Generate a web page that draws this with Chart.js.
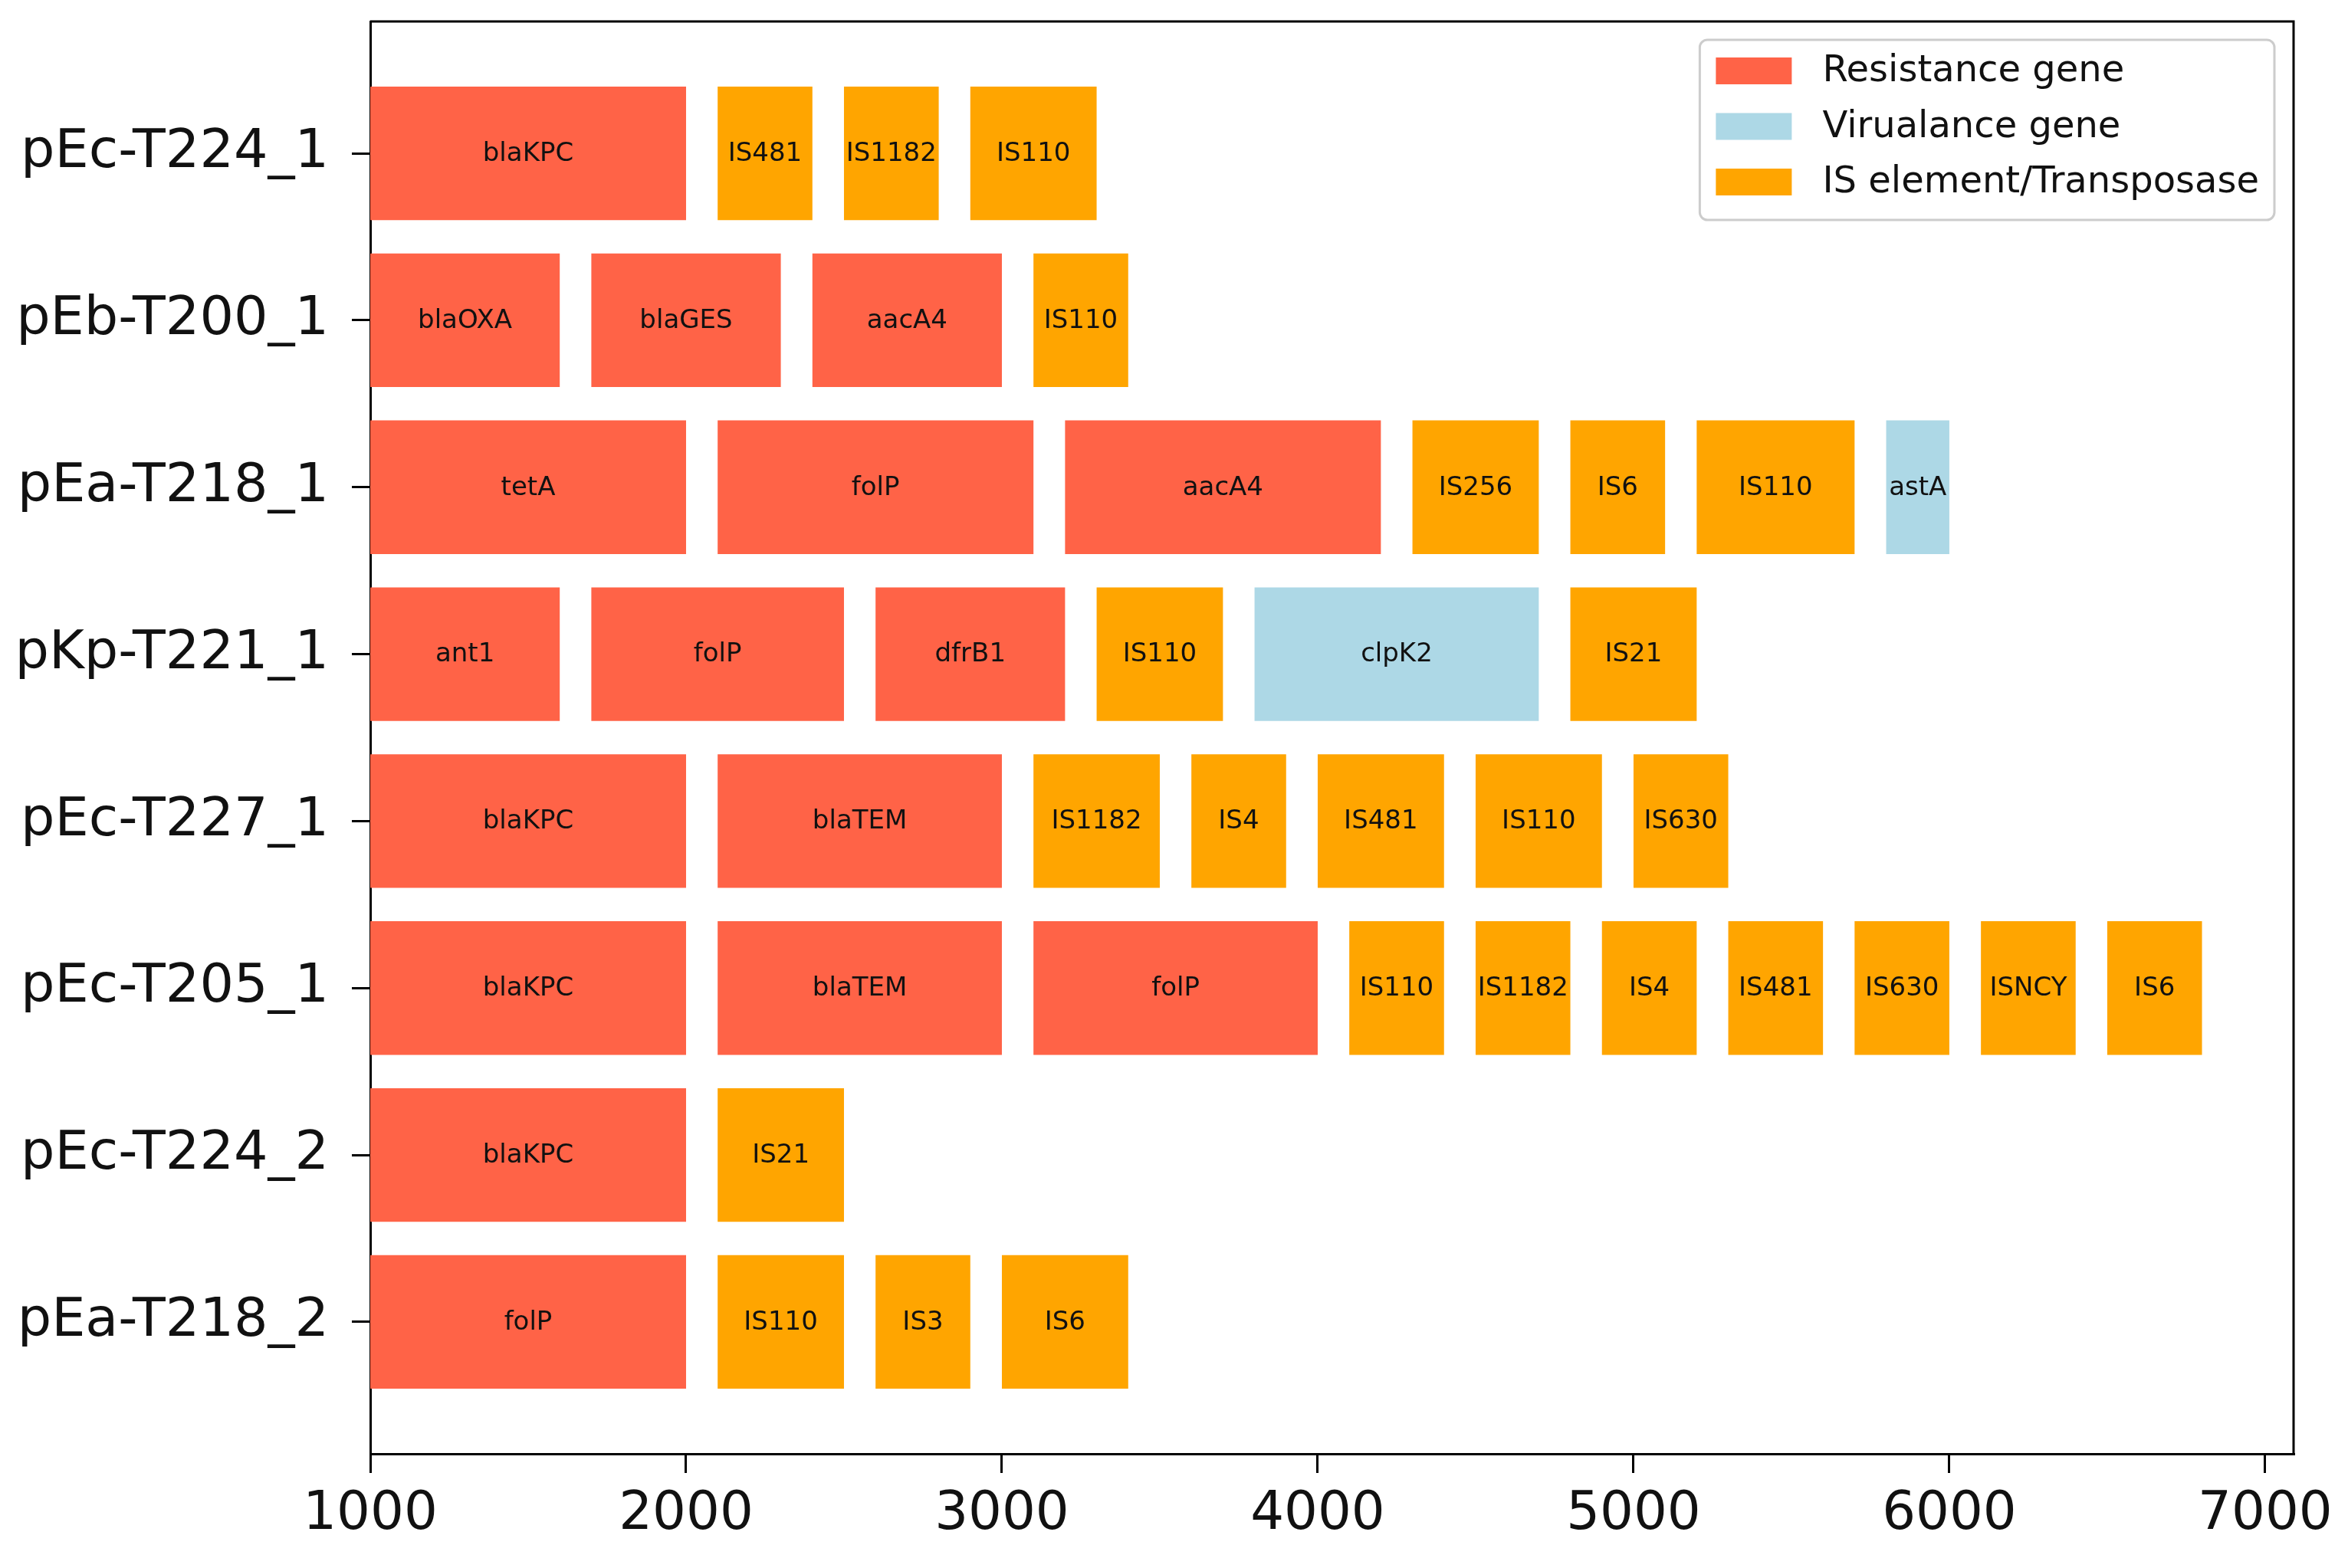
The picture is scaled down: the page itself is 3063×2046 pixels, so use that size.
<!DOCTYPE html>
<html>
<head>
<meta charset="utf-8">
<script src="https://cdn.jsdelivr.net/npm/chart.js@4"></script>
<style>
  html, body { margin: 0; padding: 0; background: #fff; }
  #wrap { width: 3063px; height: 2046px; }
</style>
</head>
<body>
<div id="wrap"><canvas id="genes" width="3063" height="2046"></canvas></div>
<script>
/* Plasmid gene map — floating horizontal bars */

// ── Data ────────────────────────────────────────────────────
const plasmids = ['pEc-T224_1', 'pEb-T200_1', 'pEa-T218_1', 'pKp-T221_1',
                  'pEc-T227_1', 'pEc-T205_1', 'pEc-T224_2', 'pEa-T218_2'];

const genes = [
  ['blaKPC', 'IS481', 'IS1182', 'IS110'],
  ['blaOXA', 'blaGES', 'aacA4', 'IS110'],
  ['tetA', 'folP', 'aacA4', 'IS256', 'IS6', 'IS110', 'astA'],
  ['ant1', 'folP', 'dfrB1', 'IS110', 'clpK2', 'IS21'],
  ['blaKPC', 'blaTEM', 'IS1182', 'IS4', 'IS481', 'IS110', 'IS630'],
  ['blaKPC', 'blaTEM', 'folP', 'IS110', 'IS1182', 'IS4', 'IS481', 'IS630', 'ISNCY', 'IS6'],
  ['blaKPC', 'IS21'],
  ['folP', 'IS110', 'IS3', 'IS6'],
];

const starts = [
  [1000, 2100, 2500, 2900],
  [1000, 1700, 2400, 3100],
  [1000, 2100, 3200, 4300, 4800, 5200, 5800],
  [1000, 1700, 2600, 3300, 3800, 4800],
  [1000, 2100, 3100, 3600, 4000, 4500, 5000],
  [1000, 2100, 3100, 4100, 4500, 4900, 5300, 5700, 6100, 6500],
  [1000, 2100],
  [1000, 2100, 2600, 3000],
];

const ends = [
  [2000, 2400, 2800, 3300],
  [1600, 2300, 3000, 3400],
  [2000, 3100, 4200, 4700, 5100, 5700, 6000],
  [1600, 2500, 3200, 3700, 4700, 5200],
  [2000, 3000, 3500, 3900, 4400, 4900, 5300],
  [2000, 3000, 4000, 4400, 4800, 5200, 5600, 6000, 6400, 6800],
  [2000, 2500],
  [2000, 2500, 2900, 3400],
];

// R = resistance, V = virulence, I = IS element / transposase
const kinds = [
  ['R', 'I', 'I', 'I'],
  ['R', 'R', 'R', 'I'],
  ['R', 'R', 'R', 'I', 'I', 'I', 'V'],
  ['R', 'R', 'R', 'I', 'V', 'I'],
  ['R', 'R', 'I', 'I', 'I', 'I', 'I'],
  ['R', 'R', 'R', 'I', 'I', 'I', 'I', 'I', 'I', 'I'],
  ['R', 'I'],
  ['R', 'I', 'I', 'I'],
];

const kindKeys   = ['R', 'V', 'I'];
const kindLabels = ['Resistance gene', 'Virualance gene', 'IS element/Transposase'];
const kindColors = ['#FF6347', '#ADD8E6', '#FFA500'];

const xTicks = [1000, 2000, 3000, 4000, 5000, 6000, 7000];

// ── Build datasets ──────────────────────────────────────────
const datasets = kindKeys.map((k, i) => ({
  label: kindLabels[i],
  backgroundColor: kindColors[i],
  borderWidth: 0,
  data: [],
}));

plasmids.forEach((_, row) => {
  genes[row].forEach((g, j) => {
    const ds = datasets[kindKeys.indexOf(kinds[row][j])];
    ds.data.push({ x: [starts[row][j], ends[row][j]], y: row, gene: g });
  });
});

const FONT = "'DejaVu Sans', sans-serif";

// labels inside each bar
const barLabels = {
  id: 'barLabels',
  afterDatasetsDraw(chart) {
    const ctx = chart.ctx;
    ctx.save();
    ctx.font = `34px ${FONT}`;
    ctx.fillStyle = '#111';
    ctx.textAlign = 'center';
    ctx.textBaseline = 'middle';
    chart.data.datasets.forEach((ds, di) => {
      chart.getDatasetMeta(di).data.forEach((bar, i) => {
        const p = bar.getProps(['x', 'base', 'y'], true);
        ctx.fillText(ds.data[i].gene, (p.x + p.base) / 2, p.y + 1);
      });
    });
    ctx.restore();
  },
};

// top/right spines + legend box inside the plot
const frameAndLegend = {
  id: 'frameAndLegend',
  afterDraw(chart) {
    const ctx = chart.ctx;
    const a = chart.chartArea;
    ctx.save();
    ctx.strokeStyle = '#000';
    ctx.lineWidth = 3;
    ctx.beginPath();
    ctx.moveTo(a.left, a.top);
    ctx.lineTo(a.right, a.top);
    ctx.lineTo(a.right, a.bottom);
    ctx.stroke();

    ctx.font = `48px ${FONT}`;
    const textW = Math.max(...kindLabels.map(t => ctx.measureText(t).width));
    const boxR = a.right - 25, boxT = a.top + 24;
    const boxW = 160 + textW + 20, boxH = 235;
    const boxL = boxR - boxW;

    ctx.beginPath();
    ctx.roundRect(boxL, boxT, boxW, boxH, 10);
    ctx.fillStyle = 'rgba(255,255,255,0.8)';
    ctx.fill();
    ctx.strokeStyle = '#cccccc';
    ctx.lineWidth = 3;
    ctx.stroke();

    ctx.textBaseline = 'middle';
    ctx.textAlign = 'left';
    chart.data.datasets.forEach((ds, i) => {
      const cy = boxT + 40 + i * 72.5;
      ctx.fillStyle = ds.backgroundColor;
      ctx.fillRect(boxL + 21, cy - 17, 99, 35);
      ctx.fillStyle = '#111';
      ctx.fillText(ds.label, boxL + 160, cy + 2);
    });
    ctx.restore();
  },
};

new Chart(document.getElementById('genes').getContext('2d'), {
  type: 'bar',
  data: { datasets },
  plugins: [barLabels, frameAndLegend],
  options: {
    indexAxis: 'y',
    responsive: false,
    devicePixelRatio: 1,
    animation: false,
    events: [],
    layout: { padding: { top: 28, right: 71, left: 0, bottom: 0 } },
    datasets: { bar: { grouped: false, categoryPercentage: 1, barPercentage: 0.8 } },
    plugins: { legend: { display: false }, tooltip: { enabled: false } },
    scales: {
      x: {
        type: 'linear',
        min: 1000,
        max: 7090,
        afterBuildTicks: axis => { axis.ticks = xTicks.map(v => ({ value: v })); },
        afterFit: axis => { axis.height = 149; axis.paddingRight = 0; axis.paddingLeft = 0; },
        grid: { display: true, drawOnChartArea: false, drawTicks: true, tickLength: 25, color: '#000', lineWidth: 3 },
        border: { display: true, color: '#000', width: 3 },
        ticks: {
          color: '#111',
          font: { family: FONT, size: 69 },
          padding: 14,
          maxRotation: 0,
          callback: v => String(v),
        },
      },
      y: {
        type: 'linear',
        reverse: true,
        offset: false,
        min: -0.79,
        max: 7.79,
        afterBuildTicks: axis => { axis.ticks = plasmids.map((_, i) => ({ value: i })); },
        afterFit: axis => { axis.width = 483; axis.paddingTop = 0; axis.paddingBottom = 0; },
        grid: { display: true, offset: false, drawOnChartArea: false, drawTicks: true, tickLength: 24, color: '#000', lineWidth: 3 },
        border: { display: true, color: '#000', width: 3 },
        ticks: {
          color: '#111',
          font: { family: FONT, size: 70 },
          padding: 30,
          autoSkip: false,
          callback: v => plasmids[v] ?? '',
        },
      },
    },
  },
});
</script>
</body>
</html>
